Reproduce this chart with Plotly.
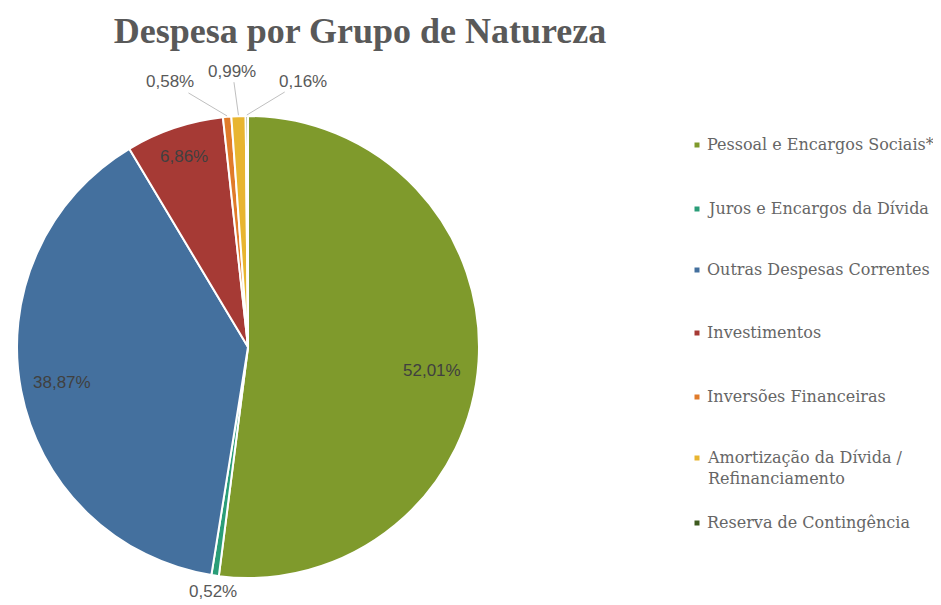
import math
import plotly.graph_objects as go

# ---- data ----
labels = [
    "Pessoal e Encargos Sociais*",
    "Juros e Encargos da Dívida",
    "Outras Despesas Correntes",
    "Investimentos",
    "Inversões Financeiras",
    "Amortização da Dívida /<br>Refinanciamento",
    "Reserva de Contingência",
]
values = [52.01, 0.52, 38.87, 6.86, 0.58, 0.99, 0.16]
colors = ["#7F9A2C", "#2A9D78", "#44709E", "#A63A35", "#E07B2A", "#E8B530", "#3D5A1E"]

# ---- layout / style ----
W, H = 941, 605
OFF = 8  # page body margin offset
CX, CY, R = 248, 347, 231


def px(x):
    return (x - OFF) / W


def py(y):
    return 1 - (y - OFF) / H


# label placement style: ('in', radius fraction, nudge dx, nudge dy) or ('out', dx, dy, arrow)
label_style = [
    ("in", 0.80, 0, 12),
    ("out", -2, 15, False),
    ("in", 0.82, 0, 0),
    ("in", 0.87, 0, 0),
    ("out", -57, -34, True),
    ("out", -6, -44, True),
    ("out", 56, -34, True),
]
legend_y = [145, 209, 270, 333, 397, 458, 523]
legend_x = 697

fig = go.Figure()
fig.add_trace(go.Pie(
    labels=labels,
    values=values,
    sort=False,
    direction="clockwise",
    rotation=0,
    textinfo="none",
    hoverinfo="label+percent",
    marker=dict(colors=colors, line=dict(color="white", width=2)),
    domain=dict(x=[px(CX - R), px(CX + R)], y=[py(CY + R), py(CY - R)]),
    showlegend=False,
))

total = sum(values)
annotations = []
shapes = []
cum = 0.0
lab_font = dict(family="Liberation Sans, Arial, sans-serif", size=17, color="#595959")
for v, st in zip(values, label_style):
    mid = (cum + v / 2) / total * 2 * math.pi
    cum += v
    txt = f"{v:.2f}%".replace(".", ",")
    if st[0] == "in":
        rr = R * st[1]
        lx = CX + rr * math.sin(mid) + st[2]
        ly = CY - rr * math.cos(mid) + st[3]
        annotations.append(dict(x=px(lx), y=py(ly), xref="paper", yref="paper",
                                xanchor="center", yanchor="middle",
                                text=txt, showarrow=False, font=dict(lab_font, color="#404040")))
    else:
        ex = CX + (R + 1) * math.sin(mid)
        ey = CY - (R + 1) * math.cos(mid)
        dx, dy, arrow = st[1], st[2], st[3]
        if arrow:
            annotations.append(dict(x=px(ex), y=py(ey), xref="paper", yref="paper",
                                    text=txt, showarrow=True, arrowhead=0, arrowwidth=1,
                                    arrowcolor="#BFBFBF", ax=dx, ay=dy, standoff=0,
                                    font=lab_font))
        else:
            annotations.append(dict(x=px(ex + dx), y=py(ey + dy), xref="paper", yref="paper",
                                    xanchor="center", yanchor="middle",
                                    text=txt, showarrow=False, font=lab_font))

# manual legend
for lab, col, ly in zip(labels, colors, legend_y):
    s = 2.5
    shapes.append(dict(type="rect", xref="paper", yref="paper",
                       x0=px(legend_x - s), x1=px(legend_x + s),
                       y0=py(ly + s), y1=py(ly - s),
                       fillcolor=col, line=dict(width=0)))
    annotations.append(dict(x=px(legend_x + 8), y=py(ly - 12), xref="paper", yref="paper",
                            text=lab, showarrow=False, xanchor="left", yanchor="top", align="left",
                            font=dict(family="DejaVu Serif, serif", size=16,
                                      color="#666666")))

fig.update_layout(
    width=W, height=H,
    margin=dict(l=0, r=0, t=0, b=0),
    paper_bgcolor="white",
    plot_bgcolor="white",
    title=dict(text="<b>Despesa por Grupo de Natureza</b>", x=px(360), xanchor="center",
               y=py(30), yanchor="middle",
               font=dict(family="Liberation Serif, Times New Roman, serif", size=36, color="#595959")),
    annotations=annotations,
    shapes=shapes,
    separators=",.",
)

fig.write_html("out.html")
